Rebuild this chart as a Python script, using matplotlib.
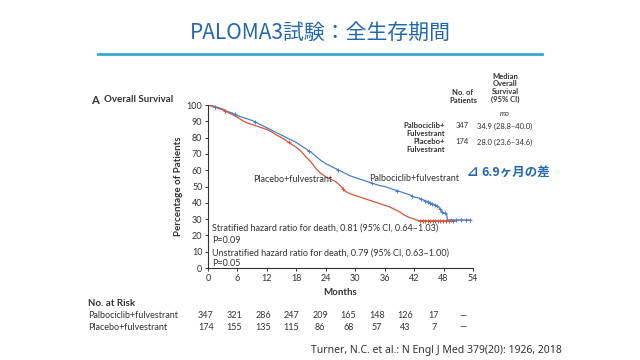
#!/usr/bin/env python3
"""
PALOMA3 overall survival - Kaplan-Meier style chart
"""

import numpy as np
import matplotlib.pyplot as plt

plt.rcParams['font.family'] = ['Lato', 'Noto Sans CJK JP', 'DejaVu Sans']

# Kaplan-Meier curves (months, % surviving)
palbo_months = [0, 1, 2, 3, 4, 5, 6, 7, 8, 9, 10, 11, 12, 13, 14, 15, 16, 17, 18,
                19, 20, 21, 22, 23, 24, 25, 26, 27, 28, 29, 30, 31, 32, 33, 34, 35,
                36, 37, 38, 39, 40, 41, 42, 43, 44, 45, 46, 47, 47.5, 48, 48.6, 48.8, 53.5]
palbo_surv = [100, 99.5, 98.5, 97.5, 96, 95, 93.5, 92.5, 91.5, 90.5, 89, 87.5, 86,
              84.5, 83, 81.5, 80, 78.5, 77, 75, 73, 71, 68.5, 66, 64, 62.5, 61, 59.5,
              58, 56.5, 55.5, 54.5, 53.5, 52.5, 51.5, 50.5, 50, 49, 48, 47, 46, 45,
              43.5, 43, 41.5, 40.5, 39, 37.5, 35, 33.5, 33.5, 29.5, 29.5]

placebo_months = [0, 1, 2, 3, 4, 5, 6, 7, 8, 9, 10, 11, 12, 13, 14, 15, 16, 17, 18,
                  19, 20, 21, 22, 23, 24, 25, 26, 27, 28, 29, 30, 31, 32, 33, 34, 35,
                  36, 37, 38, 39, 40, 41, 42, 43, 50.4]
placebo_surv = [100, 99, 98, 97, 95.5, 94, 92.5, 90.5, 89, 88, 87, 86, 85, 83.5, 81.5,
                80, 78, 76, 74, 71.5, 68, 65, 61, 58, 56, 54.5, 53, 50.5, 47, 45.5,
                44.5, 43.5, 42.5, 41.5, 40.5, 39.5, 38.5, 37.5, 36, 34.5, 32.5, 31,
                30, 29, 29]

# censoring marks (months)
palbo_censor = [1.5, 5.5, 9.5, 20.5, 26.5, 33.5, 38.5, 41.5, 43.5, 44.2, 44.8, 45.3,
                45.7, 46.2, 46.6, 47.2, 47.7, 48.3, 49.5, 50.5, 51.5, 52.5, 53.3]
placebo_censor = [3.5, 16.5, 27.5, 43.3, 43.8, 44.3, 44.8, 45.3, 45.8, 46.3, 46.8,
                  47.3, 47.8, 48.5, 49.2, 50.0]

x_ticks = [0, 6, 12, 18, 24, 30, 36, 42, 48, 54]
y_ticks = [0, 10, 20, 30, 40, 50, 60, 70, 80, 90, 100]
risk_palbo = ['347', '321', '286', '247', '209', '165', '148', '126', '17', '—']
risk_placebo = ['174', '155', '135', '115', '86', '68', '57', '43', '7', '—']

blue = '#4a7fc6'
red = '#d2553a'
title_blue = '#2468ad'
txt = '#333333'

fig = plt.figure(figsize=(6.4, 3.6), dpi=100)

# title and rule
fig.text(0.5, 0.91, 'PALOMA3試験：全生存期間', ha='center', va='center',
         fontsize=15, color=title_blue, family=['Noto Sans CJK JP'])
fig.add_artist(plt.Line2D([98 / 640, 542 / 640], [1 - 53.5 / 360] * 2,
                          color='#3aa6d0', linewidth=2))

ax = fig.add_axes([208 / 640, 1 - 268 / 360, 265 / 640, 163 / 360])


def curve_value(t, months, surv):
    return np.interp(t, months, surv)


ax.plot(palbo_months, palbo_surv, color=blue, linewidth=0.9)
ax.plot(placebo_months, placebo_surv, color=red, linewidth=0.9)
ax.plot(palbo_censor, curve_value(palbo_censor, palbo_months, palbo_surv), '+',
        color=blue, markersize=3, markeredgewidth=0.7)
ax.plot(placebo_censor, curve_value(placebo_censor, placebo_months, placebo_surv), '+',
        color=red, markersize=3, markeredgewidth=0.7)

ax.set_xlim(0, 54)
ax.set_ylim(0, 100)
ax.set_xticks(x_ticks)
ax.set_yticks(y_ticks)
ax.tick_params(labelsize=6.5, length=2.5, width=0.7, color=txt, labelcolor=txt, pad=1.5)
for s in ['top', 'right']:
    ax.spines[s].set_visible(False)
for s in ['left', 'bottom']:
    ax.spines[s].set_linewidth(0.8)
    ax.spines[s].set_color(txt)
ax.set_xlabel('Months', fontsize=7, fontweight='bold', color=txt, labelpad=4)
ax.set_ylabel('Percentage of Patients', fontsize=7, fontweight='bold', color=txt,
              labelpad=3)

ax.text(17.2, 54, 'Placebo+fulvestrant', fontsize=6.5, color=txt, ha='center', va='center')
ax.text(42, 55, 'Palbociclib+fulvestrant', fontsize=6.5, color=txt, ha='center', va='center')

ax.text(0.8, 24.5, 'Stratified hazard ratio for death, 0.81 (95% CI, 0.64–1.03)',
        fontsize=6.5, color=txt, va='center')
ax.text(0.8, 17, 'P=0.09', fontsize=6.5, color=txt, va='center')
ax.text(0.8, 9.3, 'Unstratified hazard ratio for death, 0.79 (95% CI, 0.63–1.00)',
        fontsize=6.5, color=txt, va='center')
ax.text(0.8, 2.5, 'P=0.05', fontsize=6.5, color=txt, va='center')

# panel title
fig.text(91 / 640, 1 - 100 / 360, 'A', fontsize=8, fontweight='bold', color=txt,
         va='center')
fig.text(104 / 640, 1 - 100 / 360, 'Overall Survival', fontsize=7, fontweight='bold',
         color=txt, va='center')

# median table
def ft(x, y, s, **kw):
    fig.text(x / 640, 1 - y / 360, s, color=txt, va='center', **kw)


ft(505, 88, 'Median\nOverall\nSurvival\n(95% CI)', fontsize=5.5, fontweight='bold',
   ha='center', linespacing=1.15)
ft(463, 96.5, 'No. of\nPatients', fontsize=5.5, fontweight='bold', ha='center',
   linespacing=1.15)
ft(505, 113, 'mo', fontsize=5.5, style='italic', ha='center')
ft(445, 129.5, 'Palbociclib+\nFulvestrant', fontsize=5.5, fontweight='bold', ha='right',
   linespacing=1.15)
ft(462, 126, '347', fontsize=5.5, ha='center')
ft(505, 126, '34.9 (28.8–40.0)', fontsize=5.5, ha='center')
ft(445, 145.5, 'Placebo+\nFulvestrant', fontsize=5.5, fontweight='bold', ha='right',
   linespacing=1.15)
ft(462, 142, '174', fontsize=5.5, ha='center')
ft(505, 142, '28.0 (23.6–34.6)', fontsize=5.5, ha='center')

fig.text(467 / 640, 1 - 172 / 360, '⊿', fontsize=10, color=title_blue, va='center',
         fontweight='bold', family=['DejaVu Sans'])
fig.text(481 / 640, 1 - 172 / 360, '6.9ヶ月の差', fontsize=9, fontweight='bold',
         color=title_blue, va='center', family=['Noto Sans CJK JP'])

# number at risk
ft(88, 304, 'No. at Risk', fontsize=7, fontweight='bold', ha='left')
ft(88, 316, 'Palbociclib+fulvestrant', fontsize=6.5, ha='left')
ft(88, 327, 'Placebo+fulvestrant', fontsize=6.5, ha='left')
for i in range(len(x_ticks)):
    xp = 206 + i * 28.5
    ft(xp, 316, risk_palbo[i], fontsize=6.5, ha='center')
    ft(xp, 327, risk_placebo[i], fontsize=6.5, ha='center')

ft(436, 350, 'Turner, N.C. et al.: N Engl J Med 379(20): 1926, 2018', fontsize=7.5,
   ha='center', family=['Noto Sans'])

plt.savefig('out.png', dpi=100)
